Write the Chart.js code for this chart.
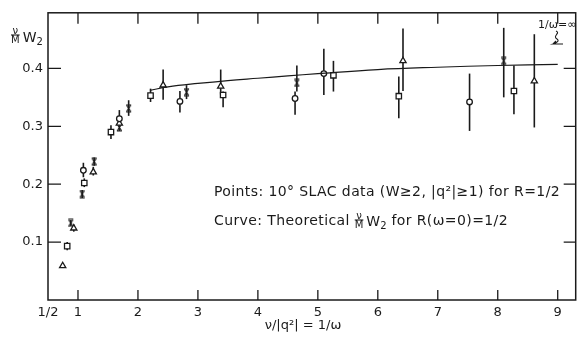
<!DOCTYPE html>
<html>
<head>
<meta charset="utf-8">
<script src="https://cdn.jsdelivr.net/npm/chart.js@4.4.1/dist/chart.umd.min.js"></script>
<style>
  html, body { margin: 0; padding: 0; background: #fff; }
  #wrap { width: 581px; height: 339px; }
</style>
</head>
<body>
<div id="wrap"><canvas id="myChart" width="581" height="339"></canvas></div>
<script>
// axis ticks
var xTicks = [0.5, 1, 2, 3, 4, 5, 6, 7, 8, 9];
var xTickLabels = ['1/2', '1', '2', '3', '4', '5', '6', '7', '8', '9'];
var yTicks = [0.1, 0.2, 0.3, 0.4];
var yTickLabels = ['0.1', '0.2', '0.3', '0.4'];

// open circles
var circX  = [1.09, 1.69, 2.70, 4.62, 5.10, 7.53];
var circY  = [0.224, 0.313, 0.343, 0.348, 0.391, 0.342];
var circLo = [0.212, 0.300, 0.324, 0.320, 0.354, 0.292];
var circHi = [0.237, 0.328, 0.361, 0.360, 0.434, 0.391];

// open squares
var sqX  = [0.82, 1.105, 1.55, 2.21, 3.42, 5.26, 6.35, 8.27];
var sqY  = [0.093, 0.202, 0.290, 0.353, 0.354, 0.388, 0.352, 0.361];
var sqLo = [0.086, 0.195, 0.278, 0.342, 0.333, 0.360, 0.314, 0.321];
var sqHi = [0.100, 0.210, 0.302, 0.365, 0.360, 0.413, 0.386, 0.405];

// open triangles
var triX  = [0.745, 0.93, 1.255, 1.69, 2.42, 3.38, 6.42, 8.61];
var triY  = [0.059, 0.124, 0.221, 0.305, 0.371, 0.369, 0.413, 0.378];
var triLo = [0.059, 0.118, 0.215, 0.300, 0.346, 0.355, 0.361, 0.298];
var triHi = [0.059, 0.130, 0.230, 0.310, 0.398, 0.398, 0.469, 0.459];

// crosses (hourglass marks)
var crsX  = [0.88, 1.07, 1.27, 1.69, 1.845, 2.81, 4.65, 8.10];
var crsY  = [0.133, 0.183, 0.239, 0.298, 0.331, 0.359, 0.375, 0.413];
var crsLo = [0.128, 0.176, 0.232, 0.292, 0.318, 0.347, 0.360, 0.350];
var crsHi = [0.138, 0.190, 0.246, 0.305, 0.345, 0.371, 0.405, 0.470];

// theoretical curve
var curveX = [2.2, 2.5, 3.0, 3.5, 4.0, 4.5, 5.0, 6.0, 7.0, 8.0, 9.0];
var curveY = [0.362, 0.368, 0.374, 0.379, 0.383, 0.387, 0.391, 0.398, 0.402, 0.405, 0.407];

var ink = '#1a1a1a';
var fontName = '"DejaVu Sans", sans-serif';

function pts(xs, ys) {
  return xs.map(function (x, i) { return { x: x, y: ys[i] }; });
}

// hourglass marker: X between two bars
function hourglass() {
  var c = document.createElement('canvas');
  c.width = 7; c.height = 9;
  var g = c.getContext('2d');
  g.strokeStyle = ink;
  g.lineWidth = 1.2;
  g.beginPath();
  g.moveTo(1, 1); g.lineTo(6, 1);
  g.moveTo(1, 8); g.lineTo(6, 8);
  g.moveTo(1.5, 1.5); g.lineTo(5.5, 7.5);
  g.moveTo(5.5, 1.5); g.lineTo(1.5, 7.5);
  g.stroke();
  return c;
}

function pointSet(xs, ys, lo, hi, style, r) {
  return {
    type: 'scatter',
    data: pts(xs, ys),
    errLo: lo,
    errHi: hi,
    pointStyle: style,
    pointRadius: r,
    pointBorderColor: ink,
    pointBackgroundColor: '#fff',
    pointBorderWidth: 1.3,
    showLine: false
  };
}

// draw a small nu/M fraction, returns width used
function fraction(g, x, yMid, size) {
  g.font = size + 'px ' + fontName;
  g.textAlign = 'center';
  g.textBaseline = 'alphabetic';
  var w = g.measureText('M').width;
  g.fillText('\u03bd', x + w / 2, yMid - 1.5);
  g.fillText('M', x + w / 2, yMid + size * 0.82);
  g.beginPath();
  g.moveTo(x, yMid); g.lineTo(x + w, yMid);
  g.lineWidth = 1.1;
  g.stroke();
  return w;
}

function w2(g, x, yBase, size) {
  g.font = size + 'px ' + fontName;
  g.textAlign = 'left';
  g.textBaseline = 'alphabetic';
  g.fillText('W', x, yBase);
  var w = g.measureText('W').width;
  g.font = Math.round(size * 0.7) + 'px ' + fontName;
  g.fillText('2', x + w, yBase + 3);
  return w + g.measureText('2').width;
}

var errorBars = {
  id: 'errorBars',
  beforeDatasetsDraw: function (chart) {
    var g = chart.ctx;
    var xs = chart.scales.x, ys = chart.scales.y;
    g.save();
    g.strokeStyle = ink;
    g.lineWidth = 1.6;
    chart.data.datasets.forEach(function (ds) {
      if (!ds.errLo) return;
      ds.data.forEach(function (p, i) {
        var px = xs.getPixelForValue(p.x);
        g.beginPath();
        g.moveTo(px, ys.getPixelForValue(ds.errLo[i]));
        g.lineTo(px, ys.getPixelForValue(ds.errHi[i]));
        g.stroke();
      });
    });
    g.restore();
  }
};

var frame = {
  id: 'frame',
  afterDraw: function (chart) {
    var g = chart.ctx;
    var a = chart.chartArea;
    var xs = chart.scales.x, ys = chart.scales.y;
    g.save();
    g.strokeStyle = ink;
    g.fillStyle = ink;
    g.lineWidth = 1.5;
    g.strokeRect(a.left, a.top, a.right - a.left, a.bottom - a.top);
    g.lineWidth = 1.3;
    g.beginPath();
    xTicks.forEach(function (v) {
      if (v < 1) return;
      var px = xs.getPixelForValue(v);
      g.moveTo(px, a.bottom); g.lineTo(px, a.bottom - 10);
      g.moveTo(px, a.top); g.lineTo(px, a.top + 11);
    });
    yTicks.forEach(function (v) {
      var py = ys.getPixelForValue(v);
      g.moveTo(a.left, py); g.lineTo(a.left + 13, py);
      g.moveTo(a.right, py); g.lineTo(a.right - 12, py);
    });
    g.stroke();

    // y axis title
    var fw = fraction(g, 11, 35, 10);
    w2(g, 11 + fw + 3, 42, 14);

    // x axis title
    g.font = '13px ' + fontName;
    g.textAlign = 'center';
    g.textBaseline = 'middle';
    g.fillText('\u03bd/|q\u00b2| = 1/\u03c9', 303, 326);

    // notes
    g.font = '14px ' + fontName;
    g.letterSpacing = '0.4px';
    g.textAlign = 'left';
    g.textBaseline = 'middle';
    g.fillText('Points: 10\u00b0 SLAC data (W\u22652, |q\u00b2|\u22651) for R=1/2', 214, 192);
    var t1 = 'Curve: Theoretical ';
    g.fillText(t1, 214, 221);
    var x1 = 214 + g.measureText(t1).width;
    g.letterSpacing = '0px';
    var fw2 = fraction(g, x1, 220, 10);
    var ww = w2(g, x1 + fw2 + 3, 226, 14);
    g.font = '14px ' + fontName;
    g.letterSpacing = '0.4px';
    g.textAlign = 'left';
    g.textBaseline = 'middle';
    g.fillText(' for R(\u03c9=0)=1/2', x1 + fw2 + 3 + ww, 221);
    g.letterSpacing = '0px';

    // 1/omega = infinity label with curly arrow
    g.font = '11px ' + fontName;
    g.fillText('1/\u03c9=\u221e', 538, 25);
    g.lineWidth = 1.1;
    g.beginPath();
    g.moveTo(556, 31);
    g.bezierCurveTo(561, 33, 552, 36, 557, 39);
    g.bezierCurveTo(560, 41, 556, 43, 553, 44);
    g.lineTo(563, 44);
    g.moveTo(553, 44); g.lineTo(556, 41);
    g.stroke();
    g.restore();
  }
};

var chart = new Chart(document.getElementById('myChart'), {
  type: 'scatter',
  data: {
    datasets: [
      {
        type: 'line',
        data: pts(curveX, curveY),
        borderColor: ink,
        borderWidth: 1.2,
        pointRadius: 0,
        tension: 0.4,
        fill: false
      },
      pointSet(circX, circY, circLo, circHi, 'circle', 2.8),
      pointSet(sqX, sqY, sqLo, sqHi, 'rect', 3.8),
      pointSet(triX, triY, triLo, triHi, 'triangle', 3.6),
      pointSet(crsX, crsY, crsLo, crsHi, hourglass(), 4)
    ]
  },
  options: {
    responsive: false,
    animation: false,
    layout: { padding: { top: 4, right: 5, left: 0, bottom: 0 } },
    plugins: {
      legend: { display: false },
      tooltip: { enabled: false }
    },
    scales: {
      x: {
        type: 'linear',
        min: 0.5,
        max: 9.3,
        grid: { display: false, drawTicks: false },
        border: { display: false },
        afterBuildTicks: function (s) { s.ticks = xTicks.map(function (v) { return { value: v }; }); },
        afterFit: function (s) { s.height = 39; },
        ticks: {
          autoSkip: false,
          maxRotation: 0,
          padding: 5,
          color: ink,
          font: { family: fontName, size: 13 },
          callback: function (v) { return xTickLabels[xTicks.indexOf(v)]; }
        }
      },
      y: {
        min: 0,
        max: 0.496,
        grid: { display: false, drawTicks: false },
        border: { display: false },
        afterBuildTicks: function (s) { s.ticks = yTicks.map(function (v) { return { value: v }; }); },
        afterFit: function (s) { s.width = 48; },
        ticks: {
          padding: 5,
          color: ink,
          font: { family: fontName, size: 13 },
          callback: function (v) { return yTickLabels[yTicks.indexOf(v)]; }
        }
      }
    }
  },
  plugins: [errorBars, frame]
});
</script>
</body>
</html>
